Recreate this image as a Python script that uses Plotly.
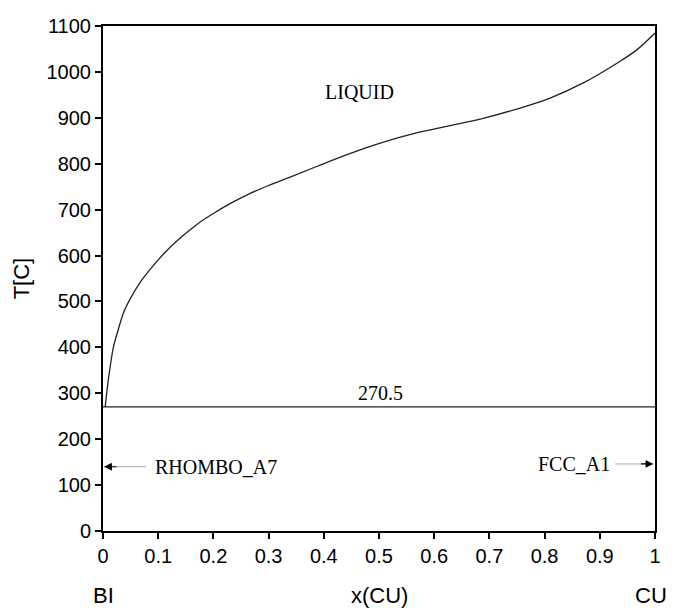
import plotly.graph_objects as go

# Liquidus of the Bi-Cu system, x(CU) vs T[C]
x_liq = [0.004, 0.008, 0.013, 0.019, 0.028, 0.037, 0.049, 0.067, 0.091, 0.115,
         0.139, 0.158, 0.176, 0.206, 0.230, 0.266, 0.303, 0.339, 0.387, 0.447,
         0.508, 0.568, 0.629, 0.689, 0.749, 0.810, 0.870, 0.931, 0.967, 1.000]
t_liq = [270.5, 314, 358, 401, 440, 475, 505, 541, 578, 610,
         637, 656, 673, 696, 713, 735, 754, 771, 794, 822,
         847, 867, 883, 899, 919, 943, 976, 1019, 1048, 1084.6]

# Eutectic isotherm
eut_x = [0.0, 1.0]
eut_t = [270.5, 270.5]
eut_label = "270.5"

x_ticks = [0, 0.1, 0.2, 0.3, 0.4, 0.5, 0.6, 0.7, 0.8, 0.9, 1]
x_tick_text = ["0", "0.1", "0.2", "0.3", "0.4", "0.5", "0.6", "0.7", "0.8", "0.9", "1"]
y_ticks = list(range(0, 1101, 100))

serif = dict(family="Liberation Serif, Times New Roman, serif", size=20, color="black")
sans = dict(family="Liberation Sans, Arial, sans-serif", size=20, color="black")
sans_big = dict(family="Liberation Sans, Arial, sans-serif", size=22, color="black")

fig = go.Figure()
fig.add_trace(go.Scatter(x=x_liq, y=t_liq, mode="lines",
                         line=dict(color="#222", width=1.3, shape="spline", smoothing=1.0),
                         hoverinfo="skip", showlegend=False))
fig.add_trace(go.Scatter(x=eut_x, y=eut_t, mode="lines",
                         line=dict(color="#222", width=1.3),
                         hoverinfo="skip", showlegend=False))

# Phase labels
fig.add_annotation(x=0.464, y=956, text="LIQUID", showarrow=False, font=serif)
fig.add_annotation(x=0.502, y=eut_t[0], text=eut_label, showarrow=False, font=serif,
                   yanchor="bottom", yshift=1)
fig.add_annotation(x=0.090, y=140, text="RHOMBO_A7", showarrow=False, font=serif,
                   xanchor="left")
fig.add_annotation(x=0.922, y=146, text="FCC_A1", showarrow=False, font=serif,
                   xanchor="right")

# Arrows towards the pure-element sides: thin grey shaft, black head
for tail, tip, t in [(0.078, 0.002, 140), (0.928, 0.997, 146)]:
    fig.add_shape(type="line", x0=tail, x1=tip, y0=t, y1=t, xref="x", yref="y",
                  line=dict(color="#aaa", width=1))
    head_tail = tip + (0.025 if tip < 0.5 else -0.025)
    fig.add_annotation(x=tip, y=t, ax=head_tail, ay=t, axref="x", ayref="y",
                       xref="x", yref="y", text="", showarrow=True,
                       arrowhead=2, arrowsize=1.3, arrowwidth=1.2, arrowcolor="black")

# Axis titles and end-member labels
fig.add_annotation(xref="paper", yref="paper", x=-0.147, y=0.5, text="T[C]",
                   textangle=-90, showarrow=False, font=sans_big,
                   xanchor="center", yanchor="middle")
for lx, txt in [(0.5, "x(CU)"), (0.0, "BI"), (0.992, "CU")]:
    fig.add_annotation(xref="paper", yref="paper", x=lx, y=-0.127, text=txt,
                       showarrow=False, font=sans_big,
                       xanchor="center", yanchor="middle")

axis_common = dict(showgrid=False, zeroline=False, showline=True, linecolor="black",
                   linewidth=2, mirror=True, ticks="outside", ticklen=6,
                   tickwidth=2, tickcolor="black", tickfont=sans)
fig.update_xaxes(range=[0, 1], tickvals=x_ticks, ticktext=x_tick_text, **axis_common)
fig.update_yaxes(range=[0, 1100], tickvals=y_ticks, **axis_common)

fig.update_layout(width=675, height=608, plot_bgcolor="white", paper_bgcolor="white",
                  margin=dict(l=103, r=20, t=26, b=77))

fig.write_html("out.html")
